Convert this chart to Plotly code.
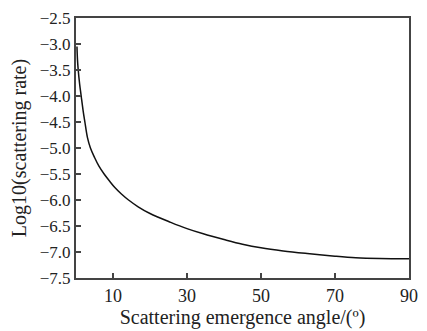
import plotly.graph_objects as go

angle = [0.26, 0.4, 0.6, 1.0, 1.4, 1.9, 2.4, 3.1, 3.9, 5.0, 6.2, 7.6, 9.0, 10.5, 12.2, 14.2, 16.8, 20,
         25.6, 30, 34.4, 40, 45, 50, 56, 62.5, 70, 75.6, 82, 90]
log_rate = [-3.05, -3.3, -3.5, -3.78, -4.0, -4.27, -4.5, -4.8, -5.0, -5.18, -5.35, -5.5, -5.63, -5.76,
            -5.88, -6.0, -6.13, -6.26, -6.43, -6.55, -6.65, -6.76, -6.85, -6.92, -6.98, -7.03, -7.08,
            -7.11, -7.125, -7.13]
x_ticks = [10, 30, 50, 70, 90]

fig = go.Figure(go.Scatter(x=angle, y=log_rate, mode="lines",
                           line=dict(color="#111111", width=1.5, shape="spline", smoothing=1.0)))

font = "Liberation Serif, Times New Roman, serif"
fig.update_layout(
    width=427, height=331,
    margin=dict(l=76, r=9, t=13, b=50),
    paper_bgcolor="white", plot_bgcolor="white",
    showlegend=False,
    font=dict(family=font, color="#222222"),
)
fig.update_xaxes(range=[0, 90], tickvals=x_ticks, ticks="inside", ticklen=5, tickwidth=1.5,
                 tickcolor="#444444", showline=True, linecolor="#444444", linewidth=2, mirror=True,
                 showgrid=False, zeroline=False, tickfont=dict(size=18, family=font),
                 title=dict(text="Scattering emergence angle/(º)", font=dict(size=20, family=font), standoff=2))
fig.update_yaxes(range=[-7.5, -2.5], dtick=0.5, tick0=-7.5, tickformat=".1f", ticks="inside", ticklen=5,
                 tickwidth=1.5, tickcolor="#444444", showline=True, linecolor="#444444", linewidth=2,
                 mirror=True, showgrid=False, zeroline=False, tickfont=dict(size=17, family=font),
                 title=dict(text="Log10(scattering rate)", font=dict(size=20, family=font), standoff=8))

fig.write_html("out.html", config={"displayModeBar": False},
               post_script="document.body.style.margin='0';document.body.style.padding='0';")
